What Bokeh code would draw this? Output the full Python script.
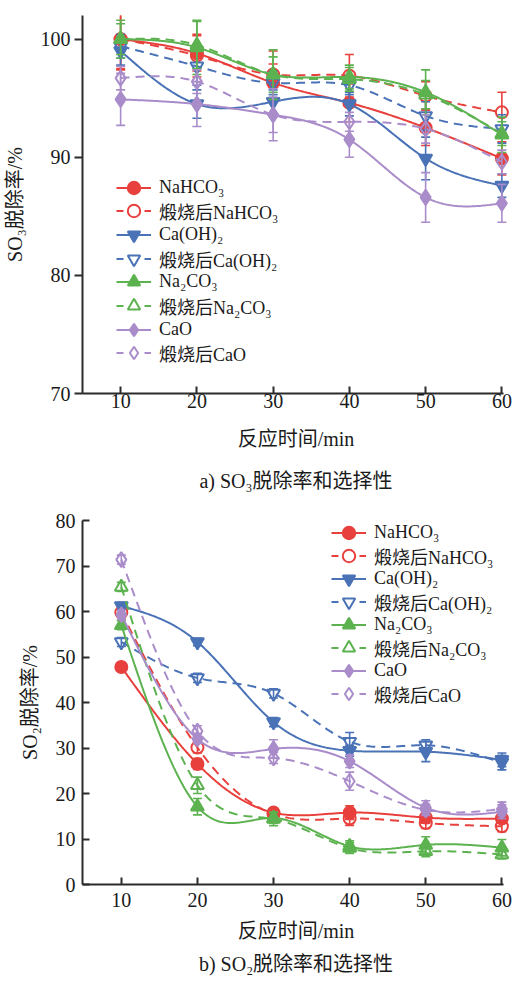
import numpy as np
from bokeh.plotting import figure
from bokeh.layouts import column
from bokeh.models import FixedTicker, Legend, LegendItem, Title
from bokeh.embed import file_html
from bokeh.resources import INLINE

# Reaction time (min)
time_min = [10, 20, 30, 40, 50, 60]

series_labels = ["NaHCO₃", "煅烧后NaHCO₃", "Ca(OH)₂", "煅烧后Ca(OH)₂",
                 "Na₂CO₃", "煅烧后Na₂CO₃", "CaO", "煅烧后CaO"]

# SO3 removal rate (%)
so3_nahco3 = [100.0, 98.8, 96.3, 94.6, 92.5, 89.9]
so3_nahco3_c = [100.0, 98.6, 97.0, 96.9, 95.2, 93.8]
so3_caoh2 = [99.0, 94.5, 94.7, 94.5, 89.9, 87.6]
so3_caoh2_c = [99.4, 97.7, 96.3, 96.1, 93.5, 92.4]
so3_na2co3 = [100.0, 99.3, 97.0, 96.8, 95.5, 91.9]
so3_na2co3_c = [100.0, 99.5, 97.0, 96.6, 95.3, 92.0]
so3_cao = [94.9, 94.5, 93.6, 91.5, 86.6, 86.1]
so3_cao_c = [96.7, 96.4, 93.6, 93.0, 92.4, 89.6]

# SO3 error bars (±)
so3_err_nahco3 = [2.5, 1.5, 1.6, 1.6, 1.5, 1.4]
so3_err_nahco3_c = [2.6, 1.8, 2.0, 1.8, 1.2, 1.7]
so3_err_caoh2 = [1.2, 1.2, 1.0, 1.0, 1.8, 1.0]
so3_err_caoh2_c = [1.0, 1.6, 1.0, 0.8, 1.2, 1.2]
so3_err_na2co3 = [1.6, 2.3, 2.1, 1.0, 1.9, 1.5]
so3_err_na2co3_c = [1.3, 2.0, 1.5, 1.0, 1.2, 1.0]
so3_err_cao = [2.2, 1.9, 2.2, 1.5, 2.1, 1.6]
so3_err_cao_c = [1.0, 1.0, 1.5, 0.8, 1.2, 1.0]

# SO2 removal rate (%)
so2_nahco3 = [47.8, 26.5, 15.8, 15.8, 14.7, 14.5]
so2_nahco3_c = [59.8, 30.1, 15.5, 14.5, 13.5, 12.8]
so2_caoh2 = [61.2, 53.3, 35.7, 29.4, 29.2, 27.4]
so2_caoh2_c = [53.3, 45.4, 42.0, 31.4, 30.6, 26.8]
so2_na2co3 = [57.0, 17.1, 14.6, 8.4, 8.7, 8.1]
so2_na2co3_c = [65.4, 21.8, 14.4, 8.0, 7.3, 6.6]
so2_cao = [59.3, 32.0, 29.8, 27.1, 16.9, 16.0]
so2_cao_c = [71.4, 33.7, 27.8, 22.7, 16.4, 16.6]

# SO2 error bars (±)
so2_err_nahco3 = [0.8, 1.2, 1.0, 1.5, 1.2, 1.0]
so2_err_nahco3_c = [1.0, 1.2, 1.2, 1.5, 1.2, 1.2]
so2_err_caoh2 = [0.8, 0.8, 1.0, 1.2, 2.2, 1.5]
so2_err_caoh2_c = [1.0, 1.0, 1.0, 2.0, 1.2, 1.6]
so2_err_na2co3 = [1.0, 1.8, 1.2, 1.2, 1.8, 1.8]
so2_err_na2co3_c = [1.0, 1.8, 1.5, 1.2, 1.2, 1.0]
so2_err_cao = [1.0, 1.0, 2.0, 1.4, 1.5, 1.5]
so2_err_cao_c = [1.0, 1.2, 1.2, 2.0, 1.2, 1.5]

so3_values = [so3_nahco3, so3_nahco3_c, so3_caoh2, so3_caoh2_c,
              so3_na2co3, so3_na2co3_c, so3_cao, so3_cao_c]
so3_errors = [so3_err_nahco3, so3_err_nahco3_c, so3_err_caoh2, so3_err_caoh2_c,
              so3_err_na2co3, so3_err_na2co3_c, so3_err_cao, so3_err_cao_c]
so2_values = [so2_nahco3, so2_nahco3_c, so2_caoh2, so2_caoh2_c,
              so2_na2co3, so2_na2co3_c, so2_cao, so2_cao_c]
so2_errors = [so2_err_nahco3, so2_err_nahco3_c, so2_err_caoh2, so2_err_caoh2_c,
              so2_err_na2co3, so2_err_na2co3_c, so2_err_cao, so2_err_cao_c]

RED, BLUE, GREEN, PURPLE = "#e8403c", "#4a72b6", "#5db250", "#a98cc9"
colors = [RED, RED, BLUE, BLUE, GREEN, GREEN, PURPLE, PURPLE]
markers = ["circle", "circle", "inverted_triangle", "inverted_triangle",
           "triangle", "triangle", "diamond", "diamond"]
marker_sizes = [12, 12, 13, 13, 13, 13, 15, 15]
calcined = [False, True, False, True, False, True, False, True]

FONT = "'Liberation Serif', 'Noto Sans CJK SC'"
TEXT_COLOR = "#1a1a1a"
AXIS_COLOR = "#2b2b2b"


def smooth_curve(xs, ys, n=240):
    """Natural cubic spline through the measured points, for drawing."""
    xs = np.asarray(xs, float)
    ys = np.asarray(ys, float)
    k = len(xs)
    h = np.diff(xs)
    A = np.zeros((k, k))
    b = np.zeros(k)
    A[0, 0] = A[-1, -1] = 1.0
    for i in range(1, k - 1):
        A[i, i - 1] = h[i - 1]
        A[i, i] = 2 * (h[i - 1] + h[i])
        A[i, i + 1] = h[i]
        b[i] = 6 * ((ys[i + 1] - ys[i]) / h[i] - (ys[i] - ys[i - 1]) / h[i - 1])
    M = np.linalg.solve(A, b)
    xx = np.linspace(xs[0], xs[-1], n)
    idx = np.clip(np.searchsorted(xs, xx) - 1, 0, k - 2)
    x0, x1 = xs[idx], xs[idx + 1]
    hh = x1 - x0
    t0, t1 = x1 - xx, xx - x0
    yy = (M[idx] * t0 ** 3 / (6 * hh) + M[idx + 1] * t1 ** 3 / (6 * hh)
          + (ys[idx] / hh - M[idx] * hh / 6) * t0
          + (ys[idx + 1] / hh - M[idx + 1] * hh / 6) * t1)
    return xx, yy


def style_axes(p, y_ticks, y_tick_out):
    p.xaxis.ticker = FixedTicker(ticks=time_min)
    p.yaxis.ticker = FixedTicker(ticks=y_ticks)
    for ax in (p.xaxis[0], p.yaxis[0]):
        ax.axis_line_width = 2
        ax.axis_line_color = AXIS_COLOR
        ax.major_tick_line_width = 2
        ax.major_tick_line_color = AXIS_COLOR
        ax.minor_tick_line_color = None
        ax.major_label_text_font = FONT
        ax.major_label_text_font_size = "20px"
        ax.major_label_text_color = TEXT_COLOR
        ax.axis_label_text_font = FONT
        ax.axis_label_text_font_size = "20px"
        ax.axis_label_text_font_style = "normal"
        ax.axis_label_text_color = TEXT_COLOR
    p.xaxis.major_tick_in = 7
    p.xaxis.major_tick_out = 0
    if y_tick_out:
        p.yaxis.major_tick_in = 0
        p.yaxis.major_tick_out = 8
    else:
        p.yaxis.major_tick_in = 7
        p.yaxis.major_tick_out = 0
    p.xgrid.grid_line_color = None
    p.ygrid.grid_line_color = None
    p.outline_line_color = None
    p.background_fill_color = "white"
    p.border_fill_color = "white"


def draw_series(p, values, errors):
    items = []
    for lab, ys, es, col, mk, ms, cal in zip(series_labels, values, errors, colors,
                                             markers, marker_sizes, calcined):
        dash = "9 6" if cal else "solid"
        xx, yy = smooth_curve(time_min, ys)
        line_r = p.line(xx, yy, line_color=col, line_width=2, line_dash=dash)
        lo = [y - e for y, e in zip(ys, es)]
        hi = [y + e for y, e in zip(ys, es)]
        p.segment(time_min, lo, time_min, hi, line_color=col, line_width=1.6)
        p.scatter(time_min, lo, marker="dash", size=9, line_color=col, line_width=1.6)
        p.scatter(time_min, hi, marker="dash", size=9, line_color=col, line_width=1.6)
        mk_r = p.scatter(time_min, ys, marker=mk, size=ms, line_color=col, line_width=2,
                         fill_color=None if cal else col)
        # legend-only line (no visible data) so dashed entries read as "- o -"
        if cal:
            leg_line = p.line([np.nan, np.nan], [np.nan, np.nan], line_color=col,
                              line_width=2, line_dash="7 21")
        else:
            leg_line = line_r
        items.append(LegendItem(label=lab, renderers=[leg_line, mk_r]))
    return items


GLYPH_H = 31


def add_legend_rows(p, items, x, first_row_y, row_step):
    """One single-row legend per entry, so the rows can sit closer than the
    glyph box height (first_row_y is measured from the frame bottom)."""
    for i, item in enumerate(items):
        y = first_row_y - i * row_step - GLYPH_H / 2
        leg = Legend(items=[item], location=(x, int(round(y))), padding=0, margin=0,
                     border_line_color=None, background_fill_alpha=0,
                     glyph_width=35, glyph_height=GLYPH_H, label_height=20,
                     label_standoff=8, label_text_font=FONT,
                     label_text_font_size="18px", label_text_color=TEXT_COLOR)
        p.add_layout(leg)


# ---- a) SO3 panel ----
p1 = figure(width=514, height=510, x_range=(5.0, 61.0), y_range=(70, 102),
            output_backend="svg", toolbar_location=None,
            min_border_left=81, min_border_right=3, min_border_top=15,
            min_border_bottom=117,
            x_axis_label="反应时间/min", y_axis_label="SO₃脱除率/%")
style_axes(p1, [70, 80, 90, 100], y_tick_out=True)
p1.xaxis.bounds = (5.0, 60.25)
p1.xaxis.major_label_standoff = 0
p1.xaxis.axis_label_standoff = 17
p1.yaxis.major_label_standoff = 4
p1.yaxis.axis_label_standoff = 12
items1 = draw_series(p1, so3_values, so3_errors)
add_legend_rows(p1, items1, 34, 393 - 187, 23.7)
p1.add_layout(Title(text="a) SO₃脱除率和选择性", align="center", text_font=FONT,
                    text_font_size="20px", text_font_style="normal",
                    text_color=TEXT_COLOR, standoff=31), "below")

# ---- b) SO2 panel ----
p2 = figure(width=514, height=471, x_range=(4.9, 61.0), y_range=(0, 80),
            output_backend="svg", toolbar_location=None,
            min_border_left=78, min_border_right=5, min_border_top=10,
            min_border_bottom=97,
            x_axis_label="反应时间/min", y_axis_label="SO₂脱除率/%")
style_axes(p2, [0, 10, 20, 30, 40, 50, 60, 70, 80], y_tick_out=False)
p2.xaxis.bounds = (4.9, 60.2)
p2.xaxis.major_label_standoff = 8
p2.xaxis.axis_label_standoff = 10
p2.yaxis.major_label_standoff = 7
p2.yaxis.axis_label_standoff = 12
items2 = draw_series(p2, so2_values, so2_errors)
add_legend_rows(p2, items2, 249, 884 - 532, 23.1)
p2.add_layout(Title(text="b) SO₂脱除率和选择性", align="center", text_font=FONT,
                    text_font_size="20px", text_font_style="normal",
                    text_color=TEXT_COLOR, standoff=13), "below")

layout = column(p1, p2, spacing=0)
open("out.html", "w").write(file_html(layout, INLINE))
